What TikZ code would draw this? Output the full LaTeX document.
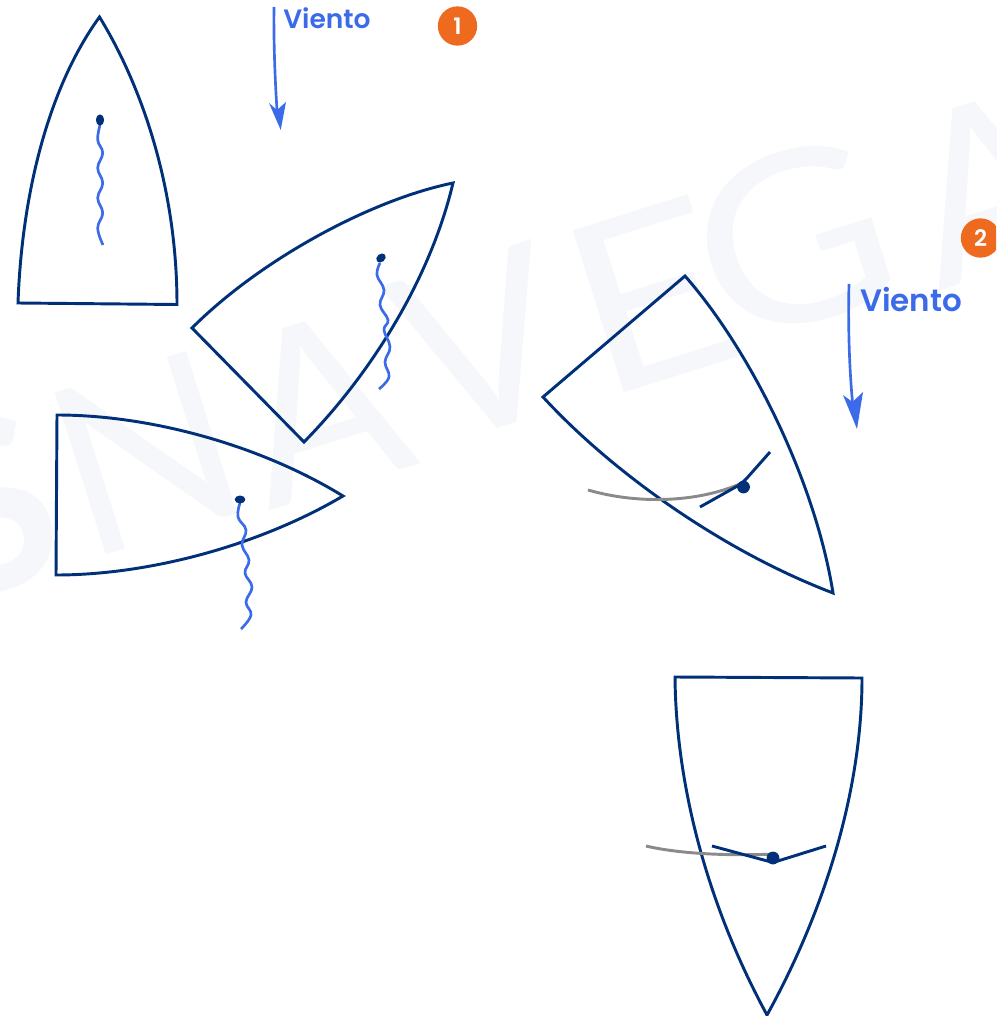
\documentclass[tikz,border=0pt]{standalone}
\usepackage{fontspec}
\setmainfont{Poppins}
\newfontfamily\wmfont{Lato}
\newfontfamily\vfont{Poppins SemiBold}
\definecolor{navy}{HTML}{003078}
\definecolor{windblue}{HTML}{3B6BE8}
\definecolor{badge}{HTML}{EE6A1F}
\definecolor{wmark}{HTML}{F5F7FB}
\definecolor{trail}{HTML}{8A8A8A}
\tikzset{
  sail/.style={draw=navy,line width=2.2pt,line join=miter},
  tell/.style={draw=windblue,line width=2pt},
  dotn/.style={fill=navy,draw=none},
  boom/.style={draw=navy,line width=2.2pt},
  wake/.style={draw=trail,line width=2.2pt},
  wind/.style={draw=windblue,line width=2pt},
  windhead/.style={fill=windblue,draw=none},
  badgen/.style={circle,fill=badge,draw=none,minimum size=29.5pt,inner sep=0pt,text=white,font=\vfont\fontsize{17}{17}\selectfont},
  windtxt/.style={text=windblue,inner sep=0pt,anchor=base west},
  wm/.style={text=wmark,inner sep=0pt,anchor=base west,rotate=17.5,font=\wmfont\fontsize{178}{178}\selectfont},
}
\begin{document}
\begin{tikzpicture}[x=0.75pt,y=-0.75pt]
\useasboundingbox (0,0) rectangle (996,1016);
\clip (0,0) rectangle (996,1016);
% watermark
\node[wm] (w1) at (-50,607) {\bfseries S};
\node[wm] (w2) at (85,562) {N};
\node[wm] (w3) at (268,512) {A};
\node[wm] (w4) at (430,450) {V};
\node[wm] (w5) at (600,401) {\scalebox{1.15}[1]{E}};
\node[wm] (w6) at (725,350) {\scalebox{1.12}[1]{G}};
\node[wm] (w7) at (938,292) {A};
% sail 1
\draw[sail] (99.5,17) .. controls (50,85) and (22,190) .. (18,303) -- (177,304.5) .. controls (177,190) and (143,88) .. cycle;
\draw[tell] plot[smooth,tension=.7] coordinates {(100,125) (97.7,140) (102.7,153) (97.7,168) (102.7,183) (97.7,198) (102.7,213) (97.7,228) (103,245)};
\fill[dotn] (100,120) ellipse [x radius=3.1pt,y radius=4.2pt];
% sail 2
\draw[sail] (453,183) .. controls (370,200) and (260,260) .. (192,328) -- (304,442) .. controls (370,375) and (430,280) .. cycle;
\draw[tell] plot[smooth,tension=.7] coordinates {(380,263) (377,275) (384,290) (380,305) (388,320) (384,330) (390,347) (385,362) (389,377) (379,389)};
\fill[dotn,rotate around={40:(381,258)}] (381,258) ellipse [x radius=3.9pt,y radius=3pt];
% sail 3
\draw[sail] (57,415) .. controls (150,415) and (260,445) .. (343,496) .. controls (260,545) and (150,575) .. (56,575) -- cycle;
\draw[tell] plot[smooth,tension=.7] coordinates {(240,503) (238,517) (246,530) (242,545) (249,560) (245,573) (252,587) (246,602) (251,615) (241,629)};
\fill[dotn] (240,499.5) ellipse [x radius=4pt,y radius=3pt];
% sail 4
\draw[sail] (685,276) .. controls (750,350) and (815,480) .. (833,593) .. controls (720,550) and (610,470) .. (543,397) -- cycle;
\draw[wake] (588,490) .. controls (640,505) and (700,502) .. (742,483);
\draw[boom] (700,507) -- (741,484) -- (747,478) -- (770,452);
\fill[dotn] (743.5,487) circle [radius=4.8pt];
% sail 5
\draw[sail] (675,677) -- (862,678) .. controls (862,790) and (825,910) .. (767,1015) .. controls (710,910) and (676,790) .. cycle;
\draw[wake] (646,846) .. controls (680,854) and (730,856) .. (775,854);
\draw[boom] (712,846) -- (773,862.5) -- (826,846);
\fill[dotn] (773,858) circle [radius=4.8pt];
% wind 1
\coordinate (a1) at (274,7);
\coordinate (a1n) at (277,110);
\draw[wind] (a1) .. controls (273.5,40) and (275,80) .. (a1n);
\fill[windhead] (280.7,130) -- (269,103) -- (277,110) -- (286,102) -- cycle;
\node[windtxt,font=\vfont\fontsize{19.9}{20}\selectfont] (v1) at (283,29) {Viento};
\node[badgen] (b1) at (457.5,26) {1};
% wind 2
\coordinate (a2) at (849,284);
\coordinate (a2n) at (852.5,402);
\draw[wind] (a2) .. controls (848,320) and (849,365) .. (a2n);
\fill[windhead] (857,429) -- (843,395) -- (852.5,402) -- (863,392) -- cycle;
\node[windtxt,font=\vfont\fontsize{23.2}{23}\selectfont] (v2) at (860,311) {Viento};
\node[badgen] (b2) at (980.5,238) {2};
\end{tikzpicture}
\end{document}
